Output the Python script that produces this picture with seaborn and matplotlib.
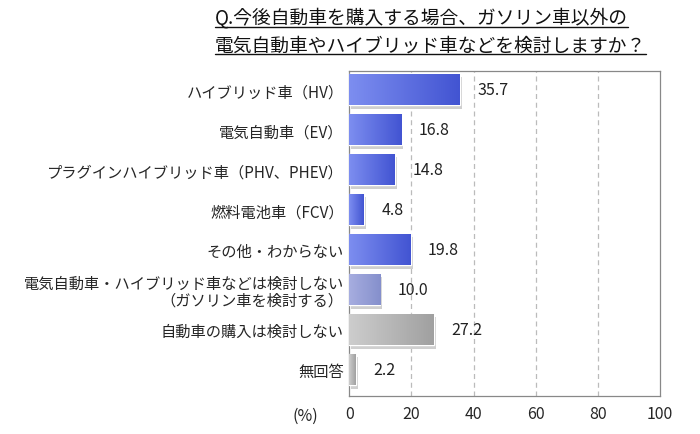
import matplotlib
matplotlib.use("Agg")
import matplotlib.pyplot as plt
import seaborn as sns
import numpy as np
import pandas as pd
from matplotlib.colors import LinearSegmentedColormap

categories = [
    "ハイブリッド車（HV）",
    "電気自動車（EV）",
    "プラグインハイブリッド車（PHV、PHEV）",
    "燃料電池車（FCV）",
    "その他・わからない",
    "電気自動車・ハイブリッド車などは検討しない\n（ガソリン車を検討する）",
    "自動車の購入は検討しない",
    "無回答",
]
values = [35.7, 16.8, 14.8, 4.8, 19.8, 10.0, 27.2, 2.2]
value_labels = ["35.7", "16.8", "14.8", "4.8", "19.8", "10.0", "27.2", "2.2"]
bar_colors = ["#4254d2", "#4254d2", "#4254d2", "#4254d2", "#4254d2",
              "#858fcc", "#a0a0a0", "#a0a0a0"]
light_colors = ["#7d8ef0", "#7d8ef0", "#7d8ef0", "#7d8ef0", "#7d8ef0",
                "#a7aee0", "#cdcdcd", "#cdcdcd"]
title_lines = ["Q.今後自動車を購入する場合、ガソリン車以外の",
               "電気自動車やハイブリッド車などを検討しますか？"]
xticks = [0, 20, 40, 60, 80, 100]

sns.set_theme(style="white")
plt.rcParams['font.family'] = ['Noto Sans CJK JP', 'DejaVu Sans']

fig = plt.figure(figsize=(7, 4.35), dpi=100)
ax = fig.add_axes([0.499, 0.088, 0.444, 0.747])

df = pd.DataFrame({"cat": categories, "val": values})
sns.barplot(data=df, x="val", y="cat", hue="cat", palette=bar_colors,
            legend=False, ax=ax, width=0.78, saturation=1, dodge=False)

# gradient + shadow
for i, p in enumerate(ax.patches):
    x0, y0 = p.get_x(), p.get_y()
    w, h = p.get_width(), p.get_height()
    cmap = LinearSegmentedColormap.from_list("g", [light_colors[i], bar_colors[i]])
    grad = np.linspace(0, 1, 256).reshape(1, -1)
    im = ax.imshow(grad, cmap=cmap, aspect="auto",
                   extent=(x0, x0 + w, y0 + h, y0), zorder=3)
    im.set_clip_path(p)
    shadow = plt.Rectangle((x0 + 0.6, y0 + 0.08), w, h, color="#cfcfcf",
                           zorder=2, lw=0)
    ax.add_patch(shadow)
    p.set_zorder(3)
    ax.text(x0 + w + 5.5, y0 + h / 2, value_labels[i], va="center", ha="left",
            fontsize=11.5, color="#222222", zorder=5)

ax.set_xlim(0, 100)
ax.set_ylim(len(categories) - 0.35, -0.475)
ax.set_xticks(xticks)
ax.set_xticklabels([str(t) for t in xticks], fontsize=11.5)
ax.set_xlabel("")
ax.set_ylabel("")
ax.tick_params(axis="y", labelsize=11, length=0, pad=4)
ax.tick_params(axis="x", length=0, pad=7)
for t in ax.get_yticklabels():
    t.set_multialignment("right")
    t.set_linespacing(1.0)
for xv in [20, 40, 60, 80]:
    ax.axvline(xv, color="#bbbbbb", lw=0.9, ls=(0, (4, 3)), zorder=0)
for s in ax.spines.values():
    s.set_visible(True)
    s.set_color("#888888")
    s.set_linewidth(0.9)
ax.set_facecolor("white")

fig.text(0.436, 0.044, "(%)", fontsize=11.5, ha="center", va="center")

tys = [0.958, 0.895]
fig.canvas.draw()
r = fig.canvas.get_renderer()
for ty, line in zip(tys, title_lines):
    t = fig.text(0.307, ty, line, fontsize=13.5, ha="left", va="center",
                 color="#111111")
    bb = t.get_window_extent(renderer=r).transformed(fig.transFigure.inverted())
    fig.add_artist(plt.Line2D([bb.x0, bb.x1], [bb.y0 + 0.002, bb.y0 + 0.002],
                              color="#111111", lw=1.0,
                              transform=fig.transFigure))

fig.savefig("out.png", dpi=100)
